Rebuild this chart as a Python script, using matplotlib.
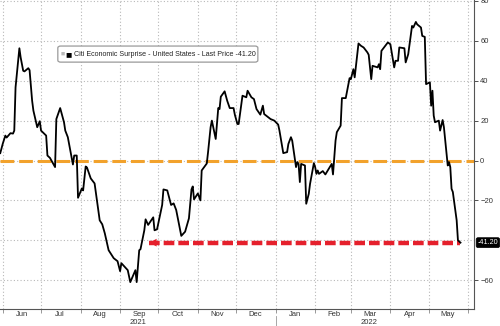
import matplotlib
matplotlib.use("Agg")
import matplotlib.pyplot as plt
import matplotlib.dates as mdates
from matplotlib.patches import FancyBboxPatch
import numpy as np
import datetime as dt

# Citi Economic Surprise Index - United States
dates = [
    "2021-05-30", "2021-06-01", "2021-06-03", "2021-06-04", "2021-06-07", "2021-06-09",
    "2021-06-10", "2021-06-11", "2021-06-14", "2021-06-15", "2021-06-17", "2021-06-18",
    "2021-06-21", "2021-06-22", "2021-06-24", "2021-06-25", "2021-06-28", "2021-06-30",
    "2021-07-01", "2021-07-05", "2021-07-06", "2021-07-08", "2021-07-12", "2021-07-13",
    "2021-07-16", "2021-07-19", "2021-07-20", "2021-07-22", "2021-07-23", "2021-07-26",
    "2021-07-27", "2021-07-29", "2021-07-30", "2021-08-02", "2021-08-03", "2021-08-05",
    "2021-08-06", "2021-08-09", "2021-08-12", "2021-08-16", "2021-08-18", "2021-08-20",
    "2021-08-23", "2021-08-27", "2021-08-30", "2021-09-01", "2021-09-02", "2021-09-07",
    "2021-09-09", "2021-09-13", "2021-09-14", "2021-09-16", "2021-09-17", "2021-09-20",
    "2021-09-21", "2021-09-23", "2021-09-27", "2021-09-28", "2021-09-30", "2021-10-04",
    "2021-10-05", "2021-10-08", "2021-10-11", "2021-10-13", "2021-10-15", "2021-10-19",
    "2021-10-22", "2021-10-25", "2021-10-27", "2021-10-28", "2021-10-29", "2021-11-01",
    "2021-11-03", "2021-11-04", "2021-11-08", "2021-11-09", "2021-11-11", "2021-11-12",
    "2021-11-15", "2021-11-17", "2021-11-18", "2021-11-19", "2021-11-22", "2021-11-24",
    "2021-11-26", "2021-11-29", "2021-11-30", "2021-12-02", "2021-12-03", "2021-12-06",
    "2021-12-09", "2021-12-10", "2021-12-13", "2021-12-15", "2021-12-17", "2021-12-20",
    "2021-12-22", "2021-12-23", "2021-12-28", "2021-12-31", "2022-01-03", "2022-01-04",
    "2022-01-07", "2022-01-10", "2022-01-11", "2022-01-13", "2022-01-14", "2022-01-17",
    "2022-01-18", "2022-01-19", "2022-01-20", "2022-01-21", "2022-01-24", "2022-01-25",
    "2022-01-27", "2022-01-28", "2022-01-31", "2022-02-01", "2022-02-02", "2022-02-03",
    "2022-02-04", "2022-02-07", "2022-02-09", "2022-02-14", "2022-02-15", "2022-02-17",
    "2022-02-18", "2022-02-21", "2022-02-22", "2022-02-25", "2022-02-28", "2022-03-01",
    "2022-03-03", "2022-03-04", "2022-03-07", "2022-03-09", "2022-03-11", "2022-03-14",
    "2022-03-15", "2022-03-17", "2022-03-18", "2022-03-22", "2022-03-23", "2022-03-24",
    "2022-03-25", "2022-03-30", "2022-04-01", "2022-04-04", "2022-04-05", "2022-04-07",
    "2022-04-08", "2022-04-12", "2022-04-13", "2022-04-15", "2022-04-18", "2022-04-19",
    "2022-04-21", "2022-04-22", "2022-04-25", "2022-04-26", "2022-04-28", "2022-04-29",
    "2022-05-02", "2022-05-03", "2022-05-04", "2022-05-05", "2022-05-06", "2022-05-09",
    "2022-05-10", "2022-05-12", "2022-05-13", "2022-05-16", "2022-05-17", "2022-05-18",
    "2022-05-19", "2022-05-20", "2022-05-23", "2022-05-24", "2022-05-26",
]
values = [
    3.7, 8.5, 12.5, 11.5, 13.7, 13.5,
    15.0, 36.7, 56.3, 51.7, 45.0, 44.7,
    46.3, 45.3, 30.0, 25.0, 16.7, 19.7,
    15.0, 12.5, 2.5, 1.3, -3.3, 20.8,
    26.3, 19.2, 15.0, 11.7, 8.3, -2.0,
    2.5, 2.5, -18.7, -14.0, -15.0, -3.0,
    -3.5, -9.0, -11.5, -30.0, -32.0, -36.5,
    -45.0, -49.0, -50.5, -55.5, -51.5, -55.0,
    -61.0, -55.0, -61.0, -45.0, -44.5, -35.0,
    -29.5, -32.3, -28.5, -35.0, -34.5, -22.3,
    -14.5, -15.0, -22.3, -21.5, -24.8, -37.8,
    -35.7, -29.0, -14.5, -13.0, -19.5, -16.5,
    -20.0, -5.0, -1.5, 4.2, 16.7, 20.0,
    10.8, 26.3, 25.8, 32.0, 34.7, 30.0,
    26.3, 26.3, 23.0, 18.3, 18.3, 32.5,
    31.7, 35.0, 31.7, 30.8, 25.8, 23.0,
    27.5, 23.3, 20.8, 20.0, 18.0, 15.0,
    3.7, 4.2, 8.3, 11.7, 10.0, -3.3,
    -0.8, -1.7, -10.8, -1.7, -2.5, -21.7,
    -16.7, -11.7, -1.3, -3.3, -6.7, -5.0,
    -6.7, -5.3, -7.0, -1.7, -7.0, 10.0,
    14.2, 17.5, 31.3, 31.3, 41.3, 40.8,
    45.8, 41.7, 58.7, 57.5, 56.7, 54.2,
    53.0, 40.8, 47.5, 46.7, 48.3, 45.8,
    55.0, 59.2, 58.3, 46.7, 50.0, 50.0,
    56.7, 56.3, 49.2, 53.3, 67.5, 66.7,
    69.5, 68.3, 66.7, 62.5, 62.0, 38.3,
    39.2, 27.5, 35.0, 22.5, 19.2, 20.0,
    15.0, 20.3, 16.7, -2.5, -0.8, -3.3,
    -14.2, -15.8, -30.0, -40.0, -41.2,
]
last_price = -41.20
y_ticks = [-60, -20, 0, 20, 40, 60, 80]

x = mdates.datestr2num(dates)
y = np.array(values)

plt.rcParams["font.family"] = ["Liberation Sans", "DejaVu Sans"]

fig = plt.figure(figsize=(5.0, 3.26), dpi=100)
ax = fig.add_axes([0.0, 0.052, 0.948, 0.948])

# dotted grid
grid_kw = dict(color="#b8b8b8", linestyle=(0, (1, 2)), linewidth=0.8, zorder=0)
month_starts = [dt.date(2021, m, 1) for m in range(6, 13)] + [dt.date(2022, m, 1) for m in range(1, 7)]
for m in month_starts:
    ax.axvline(mdates.date2num(m), **grid_kw)
for lvl in range(-60, 81, 20):
    ax.axhline(lvl, **grid_kw)

# zero line
ax.axhline(0, color="#f2a22c", linewidth=2.2, dashes=(4.5, 1.6), zorder=2)

# level marker for the latest reading
arrow_start = mdates.date2num(dt.date(2021, 9, 22))
ax.plot([arrow_start + 2, x[-1]], [last_price, last_price], color="#e5202c",
        linewidth=3.2, dashes=(2.4, 0.9), zorder=3)
ax.annotate("", xy=(arrow_start, last_price), xytext=(arrow_start + 5, last_price),
            arrowprops=dict(arrowstyle="-|>,head_length=0.5,head_width=0.28",
                            color="#e5202c", lw=0), zorder=3)

ax.plot(x, y, color="black", linewidth=1.3, zorder=4)

ax.set_xlim(mdates.date2num(dt.date(2021, 6, 1)) - 2.2,
            mdates.date2num(dt.date(2022, 6, 1)) + 4.6)
ax.set_ylim(-74.5, 80.5)

# axes styling
for s in ["left", "top"]:
    ax.spines[s].set_visible(False)
for s in ["right", "bottom"]:
    ax.spines[s].set_color("#555555")
    ax.spines[s].set_linewidth(0.8)

ax.yaxis.tick_right()
ax.set_yticks(y_ticks)
ax.tick_params(axis="y", direction="out", length=3, width=0.6, colors="#333333",
               labelsize=5.5, pad=1.5)

# month labels centred inside each month
ax.xaxis.set_major_locator(mdates.MonthLocator(bymonthday=16))
ax.xaxis.set_major_formatter(mdates.DateFormatter("%b"))
ax.tick_params(axis="x", which="major", length=0, labelsize=5.5, colors="#333333", pad=1.2)
ax.xaxis.set_minor_locator(mdates.MonthLocator())
ax.tick_params(axis="x", which="minor", length=3, width=0.6, color="#888888")

# year labels and separator
xt = ax.get_xaxis_transform()
ax.text(mdates.date2num(dt.date(2021, 9, 15)), -0.043, "2021", transform=xt,
        ha="center", va="center", fontsize=5.5, color="#333333")
ax.text(mdates.date2num(dt.date(2022, 3, 15)), -0.043, "2022", transform=xt,
        ha="center", va="center", fontsize=5.5, color="#333333")
ax.plot([mdates.date2num(dt.date(2022, 1, 1))] * 2, [-0.022, -0.06], transform=xt,
        color="#999999", linewidth=0.6, clip_on=False)

# last price tag
ax.annotate(f"{last_price:.2f}", xy=(1.0, last_price), xycoords=("axes fraction", "data"),
            xytext=(2.6, 0), textcoords="offset points", ha="left", va="center",
            fontsize=5.2, color="white", zorder=10, annotation_clip=False,
            bbox=dict(boxstyle="round,pad=0.2,rounding_size=0.25", fc="black",
                      ec="black", lw=0.5))

# legend box
ax.add_patch(FancyBboxPatch((0.122, 0.799), 0.422, 0.052, transform=ax.transAxes,
                            boxstyle="round,pad=0,rounding_size=0.006", fc="white",
                            ec="#9a9a9a", lw=0.9, zorder=5))
ax.text(0.128, 0.825, "\u25a0", transform=ax.transAxes, fontsize=5, color="#bbbbbb",
        va="center", ha="left", zorder=6)
ax.text(0.138, 0.825, "\u25a0", transform=ax.transAxes, fontsize=7.5, color="black",
        va="center", ha="left", zorder=6)
ax.text(0.157, 0.824, f"Citi Economic Surprise - United States - Last Price {last_price:.2f}",
        transform=ax.transAxes, fontsize=5.15, color="#222222", va="center", ha="left", zorder=6)

fig.savefig("out.png", dpi=100)
